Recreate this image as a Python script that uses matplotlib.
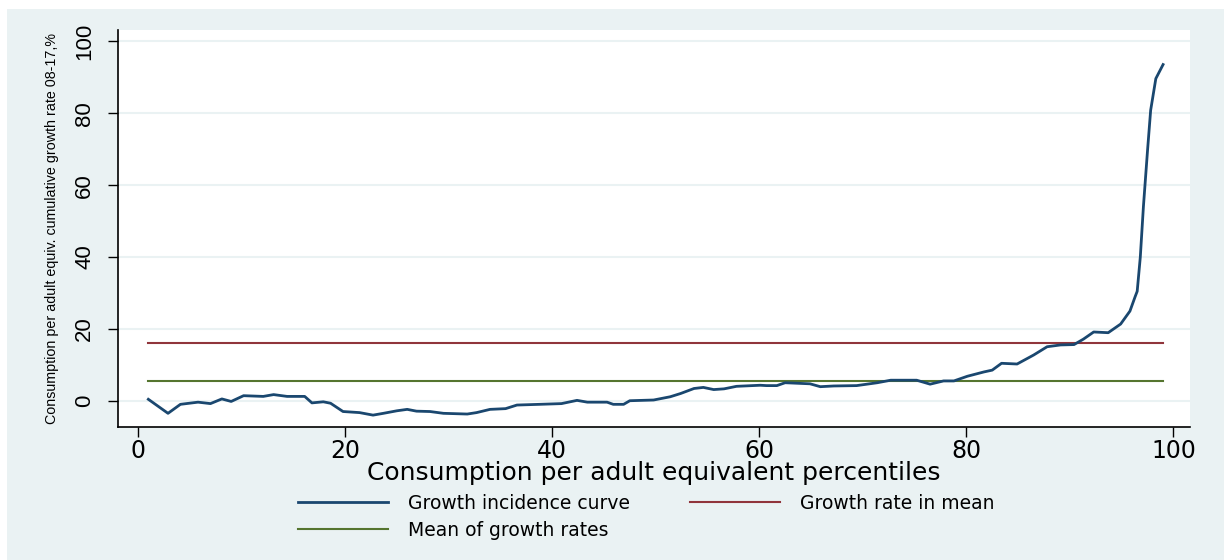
"""Growth incidence curve, consumption per adult equivalent, 2008-17."""

import matplotlib

matplotlib.use("Agg")
import matplotlib.pyplot as plt
from matplotlib.patches import Rectangle

# percentile and cumulative growth rate (%)
percentiles = [
    1.0, 2.9, 4.1, 5.8, 7.0, 8.1, 9.0, 10.2, 12.1, 13.1, 14.4, 16.1, 16.8,
    17.9, 18.6, 19.8, 21.4, 22.7, 23.7, 25.0, 26.0, 26.9, 28.2, 29.5, 31.8,
    32.7, 34.0, 35.5, 36.6, 38.8, 40.9, 42.4, 43.4, 45.3, 45.9, 46.9, 47.5,
    49.8, 51.4, 52.4, 53.7, 54.6, 55.6, 56.6, 57.8, 60.1, 60.7, 61.7, 62.5,
    64.9, 65.9, 67.2, 69.4, 71.4, 72.7, 75.2, 76.5, 77.8, 78.8, 80.1, 81.7,
    82.5, 83.4, 84.9, 86.5, 87.8, 89.1, 90.4, 91.3, 92.3, 93.7, 94.9, 95.8,
    96.3, 96.5, 96.8, 97.1, 97.5, 97.8, 98.3, 99.0,
]
growth = [
    0.5, -3.4, -0.9, -0.3, -0.7, 0.6, -0.1, 1.5, 1.3, 1.8, 1.3, 1.3, -0.5,
    -0.2, -0.6, -2.9, -3.2, -3.9, -3.4, -2.7, -2.3, -2.8, -2.9, -3.4, -3.6,
    -3.2, -2.3, -2.1, -1.1, -0.9, -0.7, 0.2, -0.3, -0.3, -0.9, -0.9, 0.1,
    0.3, 1.2, 2.1, 3.5, 3.8, 3.2, 3.4, 4.1, 4.4, 4.3, 4.3, 5.1,
    4.8, 4.0, 4.2, 4.3, 5.1, 5.8, 5.8, 4.7, 5.6, 5.6, 6.9, 8.1,
    8.6, 10.5, 10.3, 12.8, 15.1, 15.6, 15.7, 17.2, 19.2, 19.0, 21.4, 25.0,
    29.0, 30.5, 40.0, 54.0, 69.7, 80.8, 89.6, 93.5,
]
growth_in_mean = 16.0
mean_of_growth = 5.6
pct_range = [1, 99]

x_ticks = [0, 20, 40, 60, 80, 100]
y_ticks = [0, 20, 40, 60, 80, 100]

BG = "#eaf2f3"
NAVY = "#1a476f"
MAROON = "#90353b"
GREEN = "#55752f"

plt.rcParams["font.family"] = ["DejaVu Sans"]

fig = plt.figure(figsize=(12.24, 5.6), dpi=100)
fig.patches.append(
    Rectangle((7 / 1224, 0), 1, 1 - 9 / 560, transform=fig.transFigure,
              facecolor=BG, edgecolor="none", zorder=-10)
)

ax = fig.add_axes([118 / 1224, 1 - 427 / 560, (1190 - 118) / 1224, (427 - 30) / 560])
ax.set_facecolor("white")

ax.plot(percentiles, growth, color=NAVY, linewidth=2.0, label="Growth incidence curve", zorder=3)
ax.plot(pct_range, [growth_in_mean] * 2, color=MAROON, linewidth=1.5,
        label="Growth rate in mean", zorder=2)
ax.plot(pct_range, [mean_of_growth] * 2, color=GREEN, linewidth=1.5,
        label="Mean of growth rates", zorder=2)

ax.set_xlim(-1.93, 101.6)
ax.set_ylim(-7.2, 103.1)
ax.set_xticks(x_ticks)
ax.set_yticks(y_ticks)
ax.grid(True, axis="y", color=BG, linewidth=1.5, zorder=0)
ax.set_axisbelow(True)

for side in ("top", "right"):
    ax.spines[side].set_visible(False)
for side in ("left", "bottom"):
    ax.spines[side].set_linewidth(1.2)

ax.tick_params(axis="both", length=7.5, width=1, color="black")
ax.tick_params(axis="x", labelsize=17, pad=1)
ax.tick_params(axis="y", labelsize=16, pad=9)
for lbl in ax.get_yticklabels():
    lbl.set_rotation(90)
    lbl.set_verticalalignment("center")
    lbl.set_family("Liberation Sans")

ax.set_xlabel("Consumption per adult equivalent percentiles", fontsize=18, labelpad=-1)
ax.set_ylabel("Consumption per adult equiv. cumulative growth rate 08-17,%",
              fontsize=10.3, family="Liberation Sans", labelpad=11)

handles, labels = ax.get_legend_handles_labels()
order = [0, 2, 1]
fig.legend(
    [handles[i] for i in order], [labels[i] for i in order],
    loc="upper left", bbox_to_anchor=(281 / 1224, 1 - 477 / 560),
    ncol=2, frameon=False, fontsize=13.5,
    handlelength=4.8, handletextpad=1.07, columnspacing=3.2, labelspacing=0.42,
)

fig.savefig("out.png", dpi=100)
plt.close(fig)
